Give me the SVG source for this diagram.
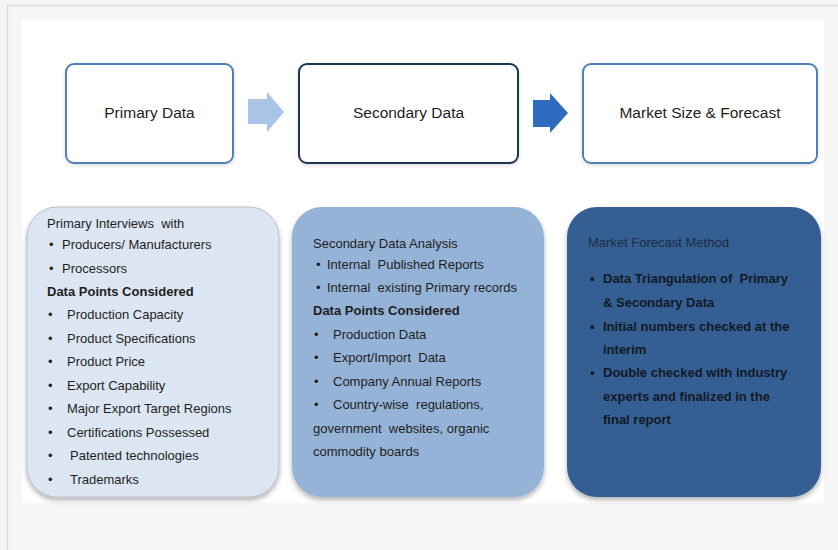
<svg xmlns="http://www.w3.org/2000/svg" width="838" height="550" viewBox="0 0 838 550">
<defs>
<style>
text{white-space:pre}
.t{font-family:"Liberation Sans",Arial,sans-serif;fill:#1e1e1e}
.h{font-size:15.5px}
.b{font-size:13px}
.bd{font-weight:bold}
.box{fill:#ffffff;stroke-width:2}
</style>
<filter id="sh" x="-10%" y="-10%" width="120%" height="125%">
<feDropShadow dx="0" dy="3" stdDeviation="2.5" flood-color="#000" flood-opacity="0.3"/>
</filter>
<filter id="sh2" x="-10%" y="-10%" width="120%" height="125%">
<feDropShadow dx="0" dy="2" stdDeviation="2" flood-color="#000" flood-opacity="0.12"/>
</filter>
</defs>
<rect x="0" y="0" width="838" height="550" fill="#f4f4f4"/>
<rect x="7.5" y="5.5" width="840" height="560" fill="#f6f6f6" stroke="#dcdcdc" stroke-width="1.5"/>
<rect x="22" y="19" width="802" height="484" fill="#ffffff"/>

<g id="node-primary">
<rect class="box" x="66" y="64" width="167" height="99" rx="8" stroke="#4f7fb8" filter="url(#sh2)"/>
<text class="t h" x="149.5" y="118" text-anchor="middle">Primary Data</text>
</g>
<g id="node-secondary">
<rect class="box" x="299" y="64" width="219" height="99" rx="8" stroke="#1f3450" filter="url(#sh2)"/>
<text class="t h" x="408.5" y="118" text-anchor="middle">Secondary Data</text>
</g>
<g id="node-market">
<rect class="box" x="583" y="64" width="234" height="99" rx="8" stroke="#4f7fb8" filter="url(#sh2)"/>
<text class="t h" x="700" y="118" text-anchor="middle">Market Size &amp; Forecast</text>
</g>

<g id="connectors">
<path d="M248 99 H267 V92 L284 112 L267 132 V124 H248 Z" fill="#a9c4e6"/>
<path d="M533 100 H550 V93 L568 113 L550 133 V127 H533 Z" fill="#2e6cc0"/>
</g>

<g id="panel-primary">
<rect x="27" y="207" width="252" height="290" rx="30" fill="#dce6f2" stroke="#b7bfca" stroke-width="1" filter="url(#sh)"/>
<g class="t b">
<text x="47" y="228">Primary Interviews  with</text>
<text x="49" y="249">•</text><text x="62" y="249">Producers/ Manufacturers</text>
<text x="49" y="273">•</text><text x="62" y="273">Processors</text>
<text x="47" y="296" class="bd">Data Points Considered</text>
<text x="48" y="319">•</text><text x="67" y="319">Production Capacity</text>
<text x="48" y="343">•</text><text x="67" y="343">Product Specifications</text>
<text x="48" y="366">•</text><text x="67" y="366">Product Price</text>
<text x="48" y="390">•</text><text x="67" y="390">Export Capability</text>
<text x="48" y="413">•</text><text x="67" y="413">Major Export Target Regions</text>
<text x="48" y="437">•</text><text x="67" y="437">Certifications Possessed</text>
<text x="48" y="460">•</text><text x="70" y="460">Patented technologies</text>
<text x="48" y="484">•</text><text x="70" y="484">Trademarks</text>
</g>
</g>

<g id="panel-secondary">
<rect x="292" y="207" width="252" height="290" rx="30" fill="#95b3d7" filter="url(#sh)"/>
<g class="t b">
<text x="313" y="248">Secondary Data Analysis</text>
<text x="316" y="269">•</text><text x="327" y="269">Internal  Published Reports</text>
<text x="316" y="292">•</text><text x="327" y="292">Internal  existing Primary records</text>
<text x="313" y="315" class="bd">Data Points Considered</text>
<text x="314" y="339">•</text><text x="333" y="339">Production Data</text>
<text x="314" y="362">•</text><text x="333" y="362">Export/Import  Data</text>
<text x="314" y="386">•</text><text x="333" y="386">Company Annual Reports</text>
<text x="314" y="409">•</text><text x="333" y="409">Country-wise  regulations,</text>
<text x="313" y="433">government  websites, organic</text>
<text x="313" y="456">commodity boards</text>
</g>
</g>

<g id="panel-market">
<rect x="567" y="207" width="254" height="290" rx="30" fill="#355f93" filter="url(#sh)"/>
<g class="t b">
<text x="588" y="247" style="fill:#1c2d44">Market Forecast Method</text>
<g class="bd" style="fill:#111a26">
<text x="590" y="283">•</text><text x="603" y="283">Data Triangulation of  Primary</text>
<text x="603" y="307">&amp; Secondary Data</text>
<text x="590" y="331">•</text><text x="603" y="331">Initial numbers checked at the</text>
<text x="603" y="354">interim</text>
<text x="590" y="377">•</text><text x="603" y="377">Double checked with industry</text>
<text x="603" y="401">experts and finalized in the</text>
<text x="603" y="424">final report</text>
</g>
</g>
</g>
</svg>
